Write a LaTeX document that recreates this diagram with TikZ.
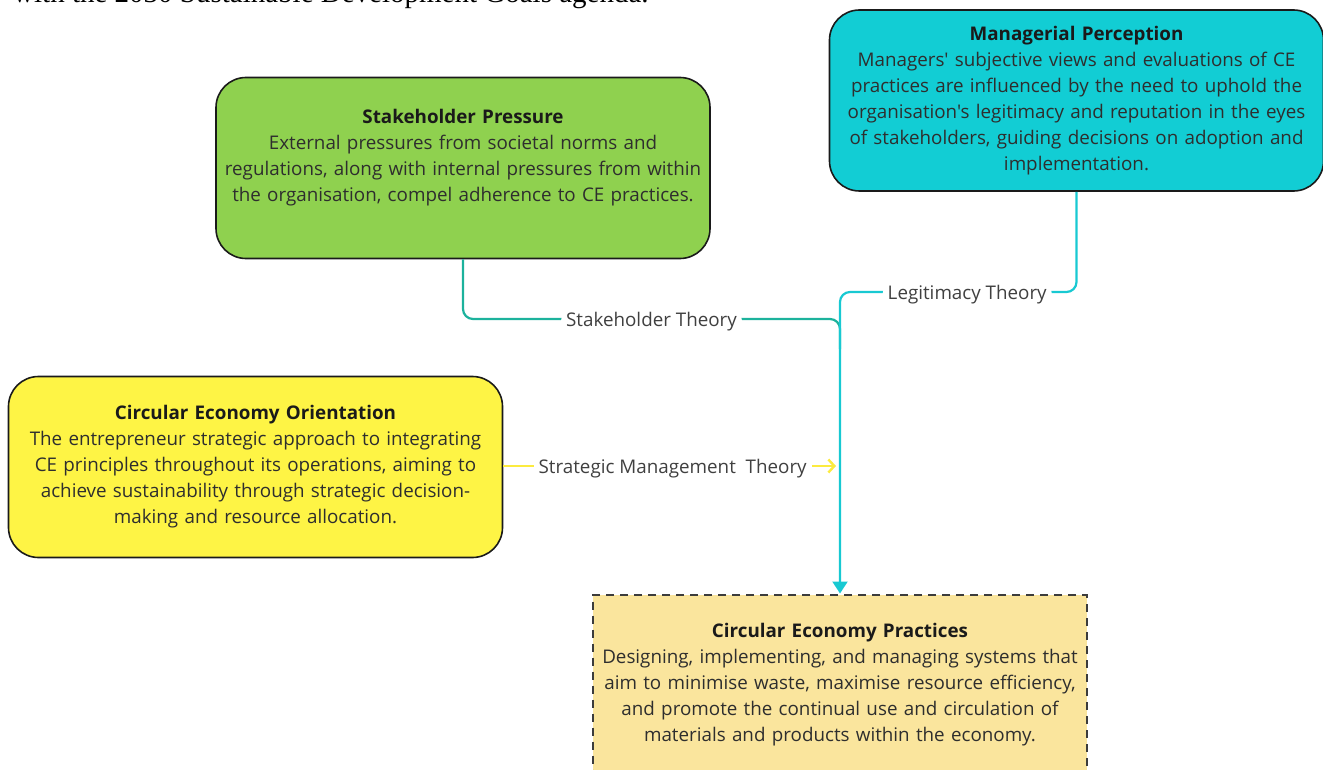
\documentclass[tikz,border=0pt]{standalone}
\usepackage{fontspec}
\setmainfont{Open Sans}[Ligatures=TeXOff]
\newfontfamily\docserif{Liberation Serif}
\usetikzlibrary{arrows.meta}

\definecolor{spgreen}{HTML}{8FD14F}
\definecolor{mpcyan}{HTML}{12CDD4}
\definecolor{ceoyellow}{HTML}{FEF445}
\definecolor{cepsand}{HTML}{FAE59D}
\definecolor{edgeink}{HTML}{1A1A1A}
\definecolor{bodyink}{HTML}{2E2E2E}
\definecolor{titleink}{HTML}{1A1A1A}
\definecolor{lblink}{HTML}{404040}
\definecolor{stkteal}{HTML}{1CB29C}
\definecolor{legcyan}{HTML}{18C9D2}
\definecolor{stmyellow}{HTML}{FCEB3F}

\newcommand{\boxtitle}[1]{{\bfseries\color{titleink}#1}}

\begin{document}
\begin{tikzpicture}[x=1pt,y=-1pt,
  box/.style={draw=edgeink, line width=1.6pt, rounded corners=30pt,
    text width=490pt, inner xsep=2pt, inner ysep=0pt, minimum height=181pt,
    align=center, text=bodyink, font=\fontsize{18.8}{26}\selectfont},
  dashbox/.style={box, rounded corners=0pt, dash pattern=on 8pt off 6pt,
    draw=edgeink!85, line width=2pt},
  lbl/.style={fill=white, inner xsep=5pt, inner ysep=2pt, text=lblink,
    yshift=-2.5pt, font=\fontsize{18.8}{26}\selectfont},
  conn/.style={line width=2.2pt, rounded corners=10pt}
]
\useasboundingbox (0,0) rectangle (1323,770);
\clip (0,0) rectangle (1323,770);

% running text of the page above the figure
\node[anchor=base west, inner sep=0pt, font=\docserif\fontsize{29}{34}\selectfont]
  (intro) at (13,2.5) {with the 2030 Sustainable Development Goals agenda.};

% concept boxes
\node[box, fill=spgreen] (sp) at (463,168)
  {\boxtitle{Stakeholder Pressure}\\
   External pressures from societal norms and\\
   regulations, along with internal pressures from within\\
   the organisation, compel adherence to CE practices.\\ ~};

\node[box, fill=mpcyan] (mp) at (1076.5,100.5)
  {\boxtitle{Managerial Perception}\\
   Managers' subjective views and evaluations of CE\\
   practices are influenced by the need to uphold the\\
   organisation's legitimacy and reputation in the eyes\\
   of stakeholders, guiding decisions on adoption and\\
   implementation.};

\node[box, fill=ceoyellow] (ceo) at (255.5,467)
  {\boxtitle{Circular Economy Orientation}\\
   The entrepreneur strategic approach to integrating\\
   CE principles throughout its operations, aiming to\\
   achieve sustainability through strategic decision-\\
   making and resource allocation.};

\node[dashbox, fill=cepsand] (cep) at (840,685)
  {\boxtitle{Circular Economy Practices}\\
   Designing, implementing, and managing systems that\\
   aim to minimise waste, maximise resource efficiency,\\
   and promote the continual use and circulation of\\
   materials and products within the economy.};

% theory connectors
\coordinate (stkjoin) at (840,319);
\coordinate (legjoin) at (840,292);
\coordinate (stmend) at (836,466);

\draw[conn, stkteal] (sp.south) |- node[lbl, pos=0.75] {Stakeholder Theory}
  (stkjoin) -- ([yshift=-30pt]stkjoin);

\draw[conn, legcyan, -{Triangle[length=12pt,width=15pt]}]
  (mp.south) |- node[lbl, pos=0.731] {Legitimacy Theory} (legjoin) -- (cep.north);

\draw[line width=2.4pt, stmyellow,
  -{Straight Barb[length=6pt,width=13pt,line width=2.4pt]}]
  (ceo.east |- stmend) -- node[lbl, pos=0.509] {Strategic Management\ \ Theory} (stmend);

\end{tikzpicture}
\end{document}
